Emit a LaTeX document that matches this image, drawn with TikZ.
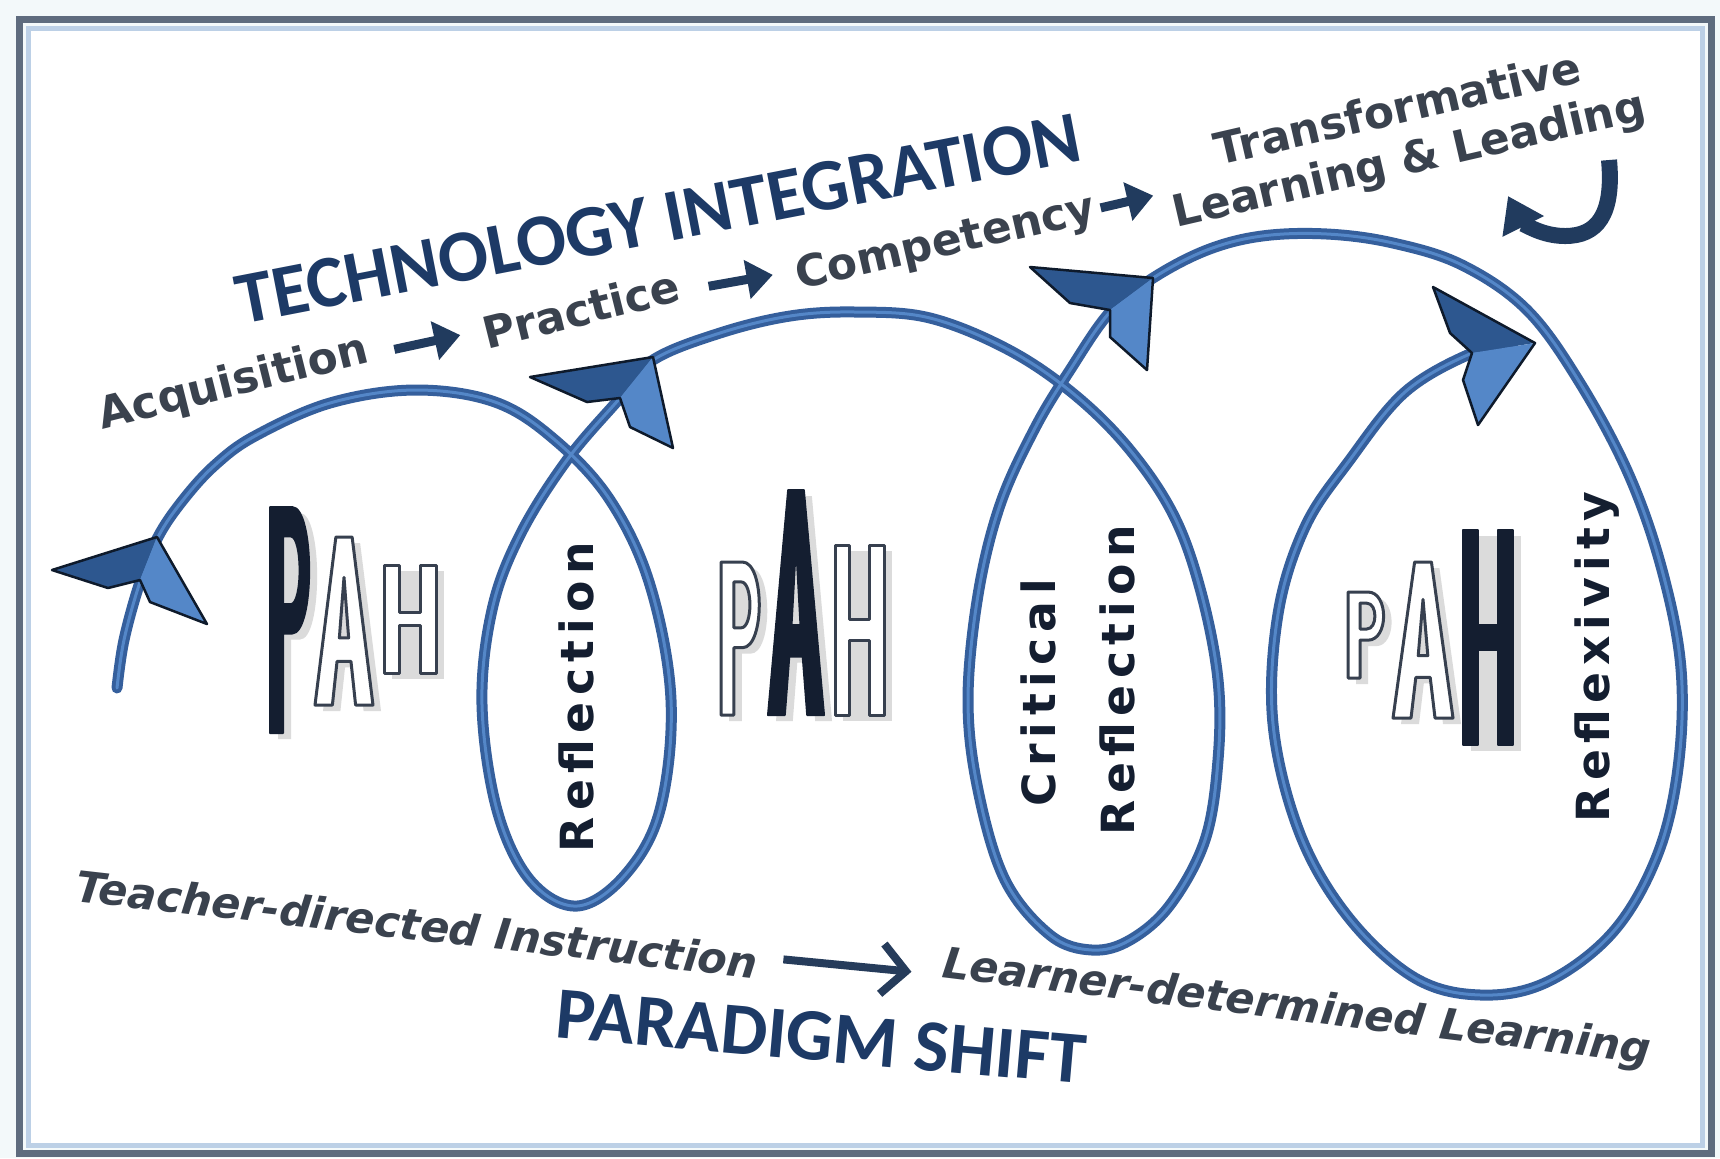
\documentclass[tikz,border=0pt]{standalone}
\usepackage{fontspec}
\usetikzlibrary{arrows.meta}
\setmainfont{DejaVu Sans}
\newfontfamily\capsfont{Carlito}
\newfontfamily\spacedfont{DejaVu Sans}[LetterSpace=14]
\newfontfamily\obliquefont{DejaVu Sans Bold Oblique}
\definecolor{pagebg}{HTML}{F3F9FA}
\definecolor{framedark}{HTML}{5E6C7E}
\definecolor{framelight}{HTML}{BCD0E6}
\definecolor{coilblue}{HTML}{355F9C}
\definecolor{coildark}{HTML}{2D578F}
\definecolor{coillight}{HTML}{5487C8}
\definecolor{navy}{HTML}{1D3A66}
\definecolor{wordgray}{HTML}{3A424E}
\definecolor{inkdark}{HTML}{141E30}
\definecolor{arrownavy}{HTML}{213B5E}
% 3d arrow head on the coil: tip, left barb, inner, notch, inner, right barb
\def\arrowhd(#1)(#2)(#3)(#4)(#5)(#6){%
  \fill[coildark] (#1) -- (#2) -- (#3) -- (#4) -- cycle;
  \fill[coillight] (#1) -- (#4) -- (#5) -- (#6) -- cycle;
  \draw[line width=0.25mm, black!70!coildark, line join=round] (#1) -- (#2) -- (#3) -- (#4) -- (#5) -- (#6) -- cycle;}
% letters of the PAH logos, box from top left corner (x,y), width w, height h
\def\pahP[#1](#2,#3)(#4,#5){%
  \fill[lettershadow, even odd rule, shift={(#2+8,#3+6)}, xscale=#4, yscale=#5]
    (0,0) -- (0.5,0) .. controls (1.02,0) and (1.02,0.56) .. (0.5,0.56) -- (0.3,0.56) -- (0.3,1) -- (0,1) -- cycle;
  \path[#1, even odd rule, shift={(#2,#3)}, xscale=#4, yscale=#5]
    (0,0) -- (0.5,0) .. controls (1.02,0) and (1.02,0.56) .. (0.5,0.56) -- (0.3,0.56) -- (0.3,1) -- (0,1) -- cycle
    (0.3,0.13) -- (0.47,0.13) .. controls (0.74,0.13) and (0.74,0.43) .. (0.47,0.43) -- (0.3,0.43) -- cycle;}
\def\pahA[#1](#2,#3)(#4,#5){%
  \fill[lettershadow, shift={(#2+8,#3+6)}, xscale=#4, yscale=#5]
    (0,1) -- (0.36,0) -- (0.64,0) -- (1,1) -- (0.7,1) -- (0.62,0.74) -- (0.38,0.74) -- (0.3,1) -- cycle;
  \path[#1, even odd rule, shift={(#2,#3)}, xscale=#4, yscale=#5]
    (0,1) -- (0.36,0) -- (0.64,0) -- (1,1) -- (0.7,1) -- (0.62,0.74) -- (0.38,0.74) -- (0.3,1) -- cycle
    (0.42,0.6) -- (0.5,0.24) -- (0.58,0.6) -- cycle;}
\def\pahH[#1](#2,#3)(#4,#5){%
  \fill[lettershadow, shift={(#2+8,#3+6)}, xscale=#4, yscale=#5]
    (0,0) -- (1,0) -- (1,1) -- (0,1) -- cycle;
  \path[#1, shift={(#2,#3)}, xscale=#4, yscale=#5]
    (0,0) -- (0.3,0) -- (0.3,0.44) -- (0.7,0.44) -- (0.7,0) -- (1,0) -- (1,1) -- (0.7,1)
    -- (0.7,0.56) -- (0.3,0.56) -- (0.3,1) -- (0,1) -- cycle;}

\begin{document}
\begin{tikzpicture}[x=0.1mm, y=-0.1mm,
  coil/.style={line width=1.1mm, coilblue, line cap=round, line join=round},
  darkletter/.style={fill=inkdark, draw=inkdark, line width=0.2mm, line join=round},
  outletter/.style={fill=white, draw=inkdark!85, line width=0.3mm, line join=round},
  lettershadow/.style={black!40, opacity=0.35},
  bigcaps/.style={font=\capsfont\bfseries\fontsize{21pt}{24pt}\selectfont, text=navy, inner sep=0pt},
  word/.style={font=\bfseries\fontsize{12.5pt}{14.5pt}\selectfont, text=wordgray, inner sep=0pt},
  slword/.style={font=\obliquefont\fontsize{12.2pt}{14pt}\selectfont, text=wordgray, inner sep=0pt},
  vertword/.style={font=\spacedfont\bfseries\fontsize{13pt}{15pt}\selectfont, text=inkdark, rotate=90, inner sep=0pt},
  thickarrow/.style={line width=0.9mm, arrownavy, -{Triangle[length=2.6mm, width=3.8mm]}},
  thinarrow/.style={line width=0.8mm, arrownavy!80!wordgray, -{Straight Barb[length=2.4mm, width=5mm]}}]
  %%%%% frame %%%%%
  \useasboundingbox (0,0) rectangle (1720,1158);
  \fill[pagebg] (0,0) rectangle (1720,1158);
  \fill[white] (30,30) rectangle (1700,1145);
  \draw[framedark, line width=0.7mm] (19,19) rectangle (1711,1153);
  \draw[framelight, line width=0.5mm] (28,28) rectangle (1702,1145);

  %%%%% the coil %%%%%
  \draw[coil, postaction={draw, coillight, line width=0.3mm}] plot[smooth, tension=0.6] coordinates {
    (117,688) (124,640) (140,582) (158,537) (183,500) (215,465) (255,436) (330,403) (415,390)
    (495,402) (555,440) (610,500) (650,585) (671,700) (660,810) (625,875) (577,906) (530,880)
    (497,810) (482,705) (492,610) (520,535) (567,460) (620,398) (653,360) (720,333) (790,316)
    (856,312) (930,318) (1009,350) (1075,395) (1130,450) (1174,516) (1201,592) (1218,680)
    (1218,760) (1205,840) (1170,905) (1130,940) (1092,950) (1050,935) (1005,880) (978,790)
    (968,700) (978,595) (1000,505) (1035,428) (1070,370) (1110,312) (1153,278) (1207,250)
    (1262,236) (1327,234) (1393,243) (1462,265) (1527,310) (1580,383) (1629,475) (1662,570)
    (1681,669) (1678,768) (1657,856) (1613,932) (1547,982) (1481,995) (1415,978) (1349,918)
    (1300,834) (1273,724) (1278,614) (1305,527) (1349,461) (1405,392) (1472,353) (1510,346)};
  \arrowhd(157,537)(52,570)(108,588)(140,580)(150,602)(207,624);
  \arrowhd(653,357)(530,377)(587,402)(620,398)(630,427)(673,448);
  \arrowhd(1153,278)(1030,267)(1070,303)(1110,310)(1110,337)(1147,370);
  \arrowhd(1535,343)(1433,287)(1450,333)(1472,353)(1463,380)(1478,425);

  %%%%% PAH logos %%%%%
  \pahP[darkletter](270,507)(44,226);
  \pahA[outletter](315,537)(58,168);
  \pahH[outletter](384,565)(52,108);

  \pahP[outletter](721,562)(43,153);
  \pahA[darkletter](768,490)(56,225);
  \pahH[outletter](835,545)(49,170);

  \pahP[outletter](1348,592)(40,86);
  \pahA[outletter](1393,562)(60,156);
  \pahH[darkletter](1463,530)(50,215);

  %%%%% labels in the loops %%%%%
  \node[vertword] (refl) at (576,697) {Reflection};
  \node[vertword] (crit) at (1038,693) {Critical};
  \node[vertword] (critrefl) at (1117,680) {Reflection};
  \node[vertword] (reflex) at (1597,657) {Reflexivity};

  %%%%% top row %%%%%
  \node[bigcaps, rotate=11] (techint) at (658,219) {TECHNOLOGY INTEGRATION};
  \node[word, rotate=14] (acq) at (234,384) {Acquisition};
  \node[word, rotate=14] (prac) at (581,309) {Practice};
  \node[word, rotate=13] (comp) at (946,244) {Competency};
  \node[word, rotate=13, align=center] (tll) at (1404,137) {Transformative\\Learning \& Leading};
  \draw[thickarrow, shorten <=2.5mm, shorten >=2.2mm] (acq) -- (prac);
  \draw[thickarrow, shorten <=2.8mm, shorten >=2.2mm] (prac) -- (comp);
  \draw[thickarrow, shorten <=0.5mm, shorten >=1.5mm] (comp) -- (tll);
  \draw[arrownavy, line width=1.6mm, -{Triangle[length=3.4mm, width=4.4mm]}]
    (1609,160) .. controls (1614,215) and (1597,236) .. (1565,236)
    .. controls (1538,236) and (1520,220) .. (1508,196);

  %%%%% bottom row %%%%%
  \node[slword, rotate=-6.5] (tdi) at (417,924) {Teacher-directed Instruction};
  \node[slword, rotate=-7] (ldl) at (1297,1009) {Learner-determined Learning};
  \node[bigcaps, rotate=-5] (pshift) at (821,1037) {PARADIGM SHIFT};
  \draw[thinarrow, shorten <=2.4mm, shorten >=3mm] (tdi) -- (ldl);
\end{tikzpicture}
\end{document}
